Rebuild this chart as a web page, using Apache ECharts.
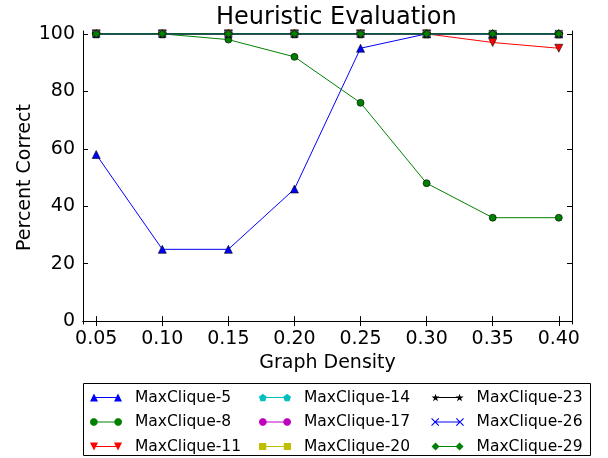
<!DOCTYPE html>
<html><head><meta charset="utf-8">
<script src="https://cdn.jsdelivr.net/npm/echarts@6/dist/echarts.min.js"></script>
<style>html,body{margin:0;padding:0;background:#fff}#c{width:608px;height:458px}</style>
</head><body><div id="c"></div>
<script>
const densities = [0.05, 0.10, 0.15, 0.20, 0.25, 0.30, 0.35, 0.40];
const seriesNames = ['MaxClique-5','MaxClique-8','MaxClique-11','MaxClique-14','MaxClique-17','MaxClique-20','MaxClique-23','MaxClique-26','MaxClique-29'];
const mc5  = [58, 25, 25, 46, 95, 100, 100, 100];
const mc8  = [100, 100, 98, 92, 76, 48, 36, 36];
const mc11 = [100, 100, 100, 100, 100, 100, 97, 95];
const mc14 = [100, 100, 100, 100, 100, 100, 100, 100];
const mc17 = [100, 100, 100, 100, 100, 100, 100, 100];
const mc20 = [100, 100, 100, 100, 100, 100, 100, 100];
const mc23 = [100, 100, 100, 100, 100, 100, 100, 100];
const mc26 = [100, 100, 100, 100, 100, 100, 100, 100];
const mc29 = [100, 100, 100, 100, 100, 100, 100, 100];
const yTicks = [0, 20, 40, 60, 80, 100];
const xTicks = [0.05, 0.10, 0.15, 0.20, 0.25, 0.30, 0.35, 0.40];

const values = [mc5, mc8, mc11, mc14, mc17, mc20, mc23, mc26, mc29];
const colors = ['#0000ff','#008000','#ff0000','#00bfbf','#bf00bf','#bfbf00','#000000','#0000ff','#008000'];
const pent = 'path://M0,-1L0.951,-0.309L0.588,0.809L-0.588,0.809L-0.951,-0.309Z';
const star = 'path://M0,-1L0.2245,-0.309L0.951,-0.309L0.363,0.118L0.588,0.809L0,0.382L-0.588,0.809L-0.363,0.118L-0.951,-0.309L-0.2245,-0.309Z';
const xmark = 'path://M0,0L10,10M10,0L0,10';
const symbols = ['triangle','circle','triangle',pent,'circle','rect',star,xmark,'diamond'];
const rotates = [0,0,180,0,0,0,0,0,0];
const sizes = [8,7,8,8,7,7,8,7,8];
const font = 'DejaVu Sans';

// legend icon shapes: marker at both ends of a short line (32x8 box)
function markerAt(kind, cx) {
  const c = (x, y) => (cx + x).toFixed(2) + ',' + (4 + y).toFixed(2);
  switch (kind) {
    case 'tri': return 'M' + c(-4,4) + 'L' + c(0,-4) + 'L' + c(4,4) + 'Z';
    case 'tridown': return 'M' + c(-4,-4) + 'L' + c(4,-4) + 'L' + c(0,4) + 'Z';
    case 'circle': {
      const pts = [];
      for (let k = 0; k < 20; k++) { const a = k / 20 * Math.PI * 2; pts.push(c(3.8 * Math.cos(a), 3.8 * Math.sin(a))); }
      return 'M' + pts.join('L') + 'Z';
    }
    case 'pent': {
      const pts = [[0,-1],[0.951,-0.309],[0.588,0.809],[-0.588,0.809],[-0.951,-0.309]];
      return 'M' + pts.map(p => c(p[0]*4, p[1]*4 + 0.4)).join('L') + 'Z';
    }
    case 'square': return 'M' + c(-3.5,-3.5) + 'L' + c(3.5,-3.5) + 'L' + c(3.5,3.5) + 'L' + c(-3.5,3.5) + 'Z';
    case 'star': {
      const pts = [[0,-1],[0.2245,-0.309],[0.951,-0.309],[0.363,0.118],[0.588,0.809],[0,0.382],[-0.588,0.809],[-0.363,0.118],[-0.951,-0.309],[-0.2245,-0.309]];
      return 'M' + pts.map(p => c(p[0]*4.2, p[1]*4.2 + 0.4)).join('L') + 'Z';
    }
    case 'x': return 'M' + c(-3.5,-3.5) + 'L' + c(3.5,3.5) + 'M' + c(3.5,-3.5) + 'L' + c(-3.5,3.5);
    case 'diamond': return 'M' + c(0,-4) + 'L' + c(4,0) + 'L' + c(0,4) + 'L' + c(-4,0) + 'Z';
  }
}
function legendIcon(kind) {
  const line = kind === 'x' ? 'M4,4L28,4' : 'M4,3.5L28,3.5L28,4.5L4,4.5Z';
  return 'path://' + line + markerAt(kind, 4) + markerAt(kind, 28);
}
const iconKinds = ['tri','circle','tridown','pent','circle','square','star','x','diamond'];

const series = values.map((v, i) => ({
  name: seriesNames[i],
  type: 'line',
  data: v.map((y, j) => [densities[j], y]),
  symbol: symbols[i],
  symbolRotate: rotates[i],
  symbolSize: sizes[i],
  showAllSymbol: true,
  lineStyle: { color: colors[i], width: 1 },
  itemStyle: { color: colors[i], borderColor: i === 7 ? colors[i] : '#000', borderWidth: i === 7 ? 1 : 0.6, opacity: 1 },
  emphasis: { disabled: true },
  animation: false,
  z: 2 + i
}));

function legendData(from, to) {
  const out = [];
  for (let i = from; i < to; i++) {
    const d = { name: seriesNames[i], icon: legendIcon(iconKinds[i]) };
    d.itemStyle = iconKinds[i] === 'x' ? { color: colors[i], borderColor: colors[i], borderWidth: 1.1 } : { color: colors[i], borderWidth: 0 };
    out.push(d);
  }
  return out;
}

const legendBase = { orient: 'vertical', padding: 0, itemWidth: 32, itemHeight: 8, itemGap: 8.5,
  textStyle: { fontFamily: font, fontSize: 15.5, color: '#000', padding: [0,0,0,8] }, selectedMode: false, top: 389.5 };

const axisCommon = {
  axisLine: { show: true, lineStyle: { color: '#000', width: 1 } },
  splitLine: { show: false }
};

const chart = echarts.init(document.getElementById('c'));
chart.setOption({
  animation: false,
  title: { text: 'Heuristic Evaluation', left: 211, top: 1, textStyle: { fontFamily: font, fontSize: 24, fontWeight: 'normal', color: '#000' } },
  grid: { left: 83, right: 36, top: 31, bottom: 134 },
  legend: [
    Object.assign({}, legendBase, { left: 90, data: legendData(0,3) }),
    Object.assign({}, legendBase, { left: 259, data: legendData(3,6) }),
    Object.assign({}, legendBase, { left: 431, data: legendData(6,9) })
  ],
  xAxis: [
    Object.assign({}, axisCommon, { type: 'value', min: 0.04, max: 0.41, position: 'bottom',
      name: 'Graph Density', nameLocation: 'middle', nameGap: 30, nameMoveOverlap: false,
      nameTextStyle: { fontFamily: font, fontSize: 19, color: '#000' },
      axisTick: { inside: true, length: 5, customValues: xTicks, lineStyle: { color: '#000' } },
      axisLabel: { customValues: xTicks, fontFamily: font, fontSize: 19, color: '#000', margin: 6, formatter: v => v.toFixed(2) } }),
    Object.assign({}, axisCommon, { type: 'value', min: 0.04, max: 0.41, position: 'top',
      axisTick: { inside: true, length: 5, customValues: xTicks, lineStyle: { color: '#000' } },
      axisLabel: { show: false } })
  ],
  yAxis: [
    Object.assign({}, axisCommon, { type: 'value', min: -1, max: 101, position: 'left',
      name: 'Percent Correct', nameLocation: 'middle', nameGap: 48, nameRotate: 90, nameMoveOverlap: false,
      nameTextStyle: { fontFamily: font, fontSize: 19, color: '#000' },
      axisTick: { inside: true, length: 5, customValues: yTicks, lineStyle: { color: '#000' } },
      axisLabel: { customValues: yTicks, fontFamily: font, fontSize: 19, color: '#000', margin: 8 } }),
    Object.assign({}, axisCommon, { type: 'value', min: -1, max: 101, position: 'right',
      axisTick: { inside: true, length: 5, customValues: yTicks, lineStyle: { color: '#000' } },
      axisLabel: { show: false } })
  ],
  graphic: [{ type: 'rect', shape: { x: 83.5, y: 383.5, width: 507, height: 72 }, style: { fill: 'none', stroke: '#000', lineWidth: 1 }, z: 0 }],
  series: series
});
</script></body></html>
